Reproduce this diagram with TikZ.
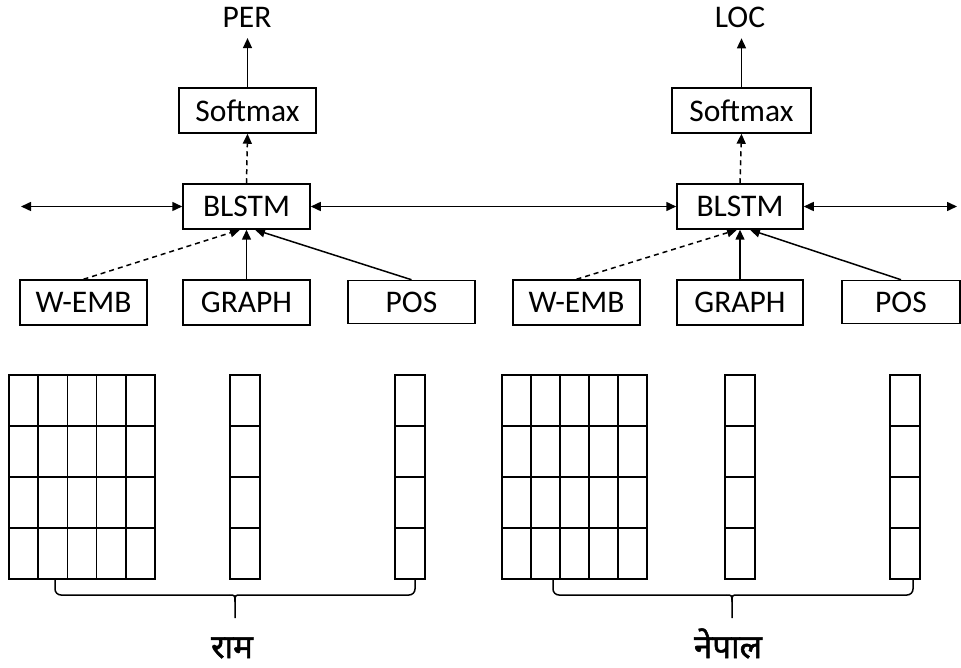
\documentclass[tikz,border=0pt]{standalone}
\usepackage{fontspec}
\setmainfont{Carlito}
\newfontfamily\devfont[Script=Devanagari, FakeBold=1.6]{Noto Sans}
\usetikzlibrary{arrows.meta}
\begin{document}
\begin{tikzpicture}[x=1pt,y=-1pt,
  box/.style={draw, line width=1.5pt, inner sep=0pt, minimum height=45pt, font=\fontsize{31.5}{36}\selectfont},
  lbl/.style={inner sep=0pt, outer ysep=11pt, font=\fontsize{31.5}{36}\selectfont},
  dev/.style={inner sep=0pt, anchor=base, font=\devfont\fontsize{33}{38}\selectfont},
  arr/.style={line width=1.5pt, -{Triangle[length=10pt,width=9pt]}},
  darr/.style={line width=1.5pt, {Triangle[length=10pt,width=9pt]}-{Triangle[length=10pt,width=9pt]}},
  dsh/.style={dash pattern=on 5pt off 4pt},
  gl/.style={line width=1.5pt}]
\useasboundingbox (0,0) rectangle (961,668);

% ---- left column of the network
\node[lbl] (per) at (247,17) {PER};
\node[box, minimum width=137pt] (soft1) at (247.5,110.5) {Softmax};
\node[box, minimum width=127pt] (blstm1) at (246.5,206.5) {BLSTM};
\node[box, minimum width=127pt] (wemb1) at (83.5,302.5) {W-EMB};
\node[box, minimum width=127pt] (graph1) at (246.5,302.5) {GRAPH};
\node[box, minimum width=127pt, minimum height=43pt] (pos1) at (411.5,302) {POS};

% ---- right column of the network
\node[lbl] (loc) at (740,17) {LOC};
\node[box, minimum width=139pt] (soft2) at (741.5,110.5) {Softmax};
\node[box, minimum width=126pt] (blstm2) at (740,206.5) {BLSTM};
\node[box, minimum width=127pt] (wemb2) at (576.5,302.5) {W-EMB};
\node[box, minimum width=126pt] (graph2) at (740,302.5) {GRAPH};
\node[box, minimum width=118pt, minimum height=43pt] (pos2) at (901,302) {POS};

\coordinate (lend) at (21,206.5);
\coordinate (rend) at (957,206.5);

% ---- connectors
\draw[arr] (soft1.north) -- (soft1.north |- per.south);
\draw[arr, dsh] (blstm1.north) -- (soft1.south);
\draw[arr, dsh] (wemb1.north) -- ([xshift=-6.5pt]blstm1.south);
\draw[arr] (graph1.north) -- (blstm1.south);
\draw[arr] (pos1.north) -- ([xshift=8.5pt]blstm1.south);

\draw[arr] (soft2.north) -- (soft2.north |- loc.south);
\draw[arr, dsh] (blstm2.north) -- (soft2.south);
\draw[arr, dsh] (wemb2.north) -- ([xshift=-3pt]blstm2.south);
\draw[arr] (graph2.north) -- (blstm2.south);
\draw[arr] (pos2.north) -- ([xshift=10pt]blstm2.south);

\draw[darr] (lend) -- (blstm1.west);
\draw[darr] (blstm1.east) -- (blstm2.west);
\draw[darr] (blstm2.east) -- (rend);

% ---- embedding grids
\foreach \xa/\cw in {9/29.2, 502/29} {
  \draw[gl] (\xa,375) rectangle ({\xa+5*\cw},579);
  \foreach \i in {1,...,4} \draw[gl] ({\xa+\i*\cw},375) -- ({\xa+\i*\cw},579);
  \foreach \yy in {426,477,528} \draw[gl] (\xa,\yy) -- ({\xa+5*\cw},\yy);
}
\foreach \xa in {230,395,725,890} {
  \draw[gl] (\xa,375) rectangle ({\xa+30},579);
  \foreach \yy in {426,477,528} \draw[gl] (\xa,\yy) -- ({\xa+30},\yy);
}

% ---- braces
\foreach \l/\m/\r in {55/235/415, 553/732/913} {
  \draw[gl, rounded corners=6pt] (\l,579) -- (\l,595) -- ({\m-6},595);
  \draw[gl] ({\m-6},595) .. controls (\m,595) .. (\m,602) -- (\m,618);
  \draw[gl, rounded corners=6pt] (\r,579) -- (\r,595) -- ({\m+6},595);
  \draw[gl] ({\m+6},595) .. controls (\m,595) .. (\m,602);
}

\node[dev] (ram) at (232,658) {राम};
\node[dev] (nepal) at (728,658) {नेपाल};
\end{tikzpicture}
\end{document}
